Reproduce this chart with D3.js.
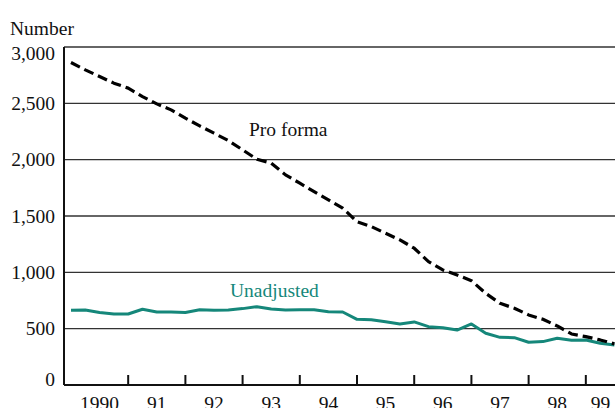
<!DOCTYPE html>
<html>
<head>
<meta charset="utf-8">
<script src="https://cdn.jsdelivr.net/npm/d3@7"></script>
<style>
    html, body { margin: 0; padding: 0; background: #fff; }
    svg { display: block; }
</style>
</head>
<body>
<svg id="chart"></svg>
<script>
"use strict";

// quarterly series, 1990 Q1 through 1999 Q3
const startYear = 1990;
const proForma = [2862, 2797, 2738, 2679, 2635, 2560, 2495, 2442, 2368, 2300,
    2235, 2170, 2087, 2004, 1969, 1865, 1791, 1716, 1643, 1569,
    1450, 1406, 1347, 1288, 1214, 1095, 1021, 977, 926, 814,
    725, 681, 622, 583, 524, 453, 429, 400, 365];
const unadjusted = [663, 665, 644, 630, 630, 672, 648, 648, 644, 668,
    663, 666, 678, 695, 675, 666, 668, 668, 651, 648,
    583, 580, 562, 542, 560, 518, 509, 488, 542, 459,
    423, 420, 379, 385, 415, 397, 400, 370, 355];
const yTicks = [0, 500, 1000, 1500, 2000, 2500, 3000];
const yearLabels = ["1990", "91", "92", "93", "94", "95", "96", "97", "98", "99"];

const width = 615;
const height = 408;
const marginLeft = 64;
const marginTop = 47;
const marginBottom = 23;
const serif = "'Liberation Serif', 'Times New Roman', 'DejaVu Serif', serif";

const svg = d3.select("#chart")
    .attr("width", width)
    .attr("height", height)
    .attr("viewBox", [0, 0, width, height])
    .attr("font-family", serif);

const x = d3.scaleLinear()
    .domain([1989.878, 1999.51])
    .range([marginLeft, width]);

const y = d3.scaleLinear()
    .domain([0, 3000])
    .range([height - marginBottom, marginTop]);

const toPoints = arr => arr.map((v, i) => ({t: startYear + i / 4, v: v}));

// gridlines
svg.append("g")
    .selectAll("line")
    .data(yTicks.filter(d => d > 0))
    .join("line")
    .attr("x1", marginLeft)
    .attr("x2", width)
    .attr("y1", d => y(d))
    .attr("y2", d => y(d))
    .attr("stroke", "#333")
    .attr("stroke-width", 1.4);

// y labels (end labels kept inside the frame)
svg.append("g")
    .selectAll("text")
    .data(yTicks)
    .join("text")
    .attr("x", 55)
    .attr("y", d => Math.min(Math.max(y(d), marginTop + 6.5), height - marginBottom - 6) + 6.7)
    .attr("text-anchor", "end")
    .attr("font-family", serif)
    .style("font-size", "19.5px")
    .attr("fill", "#111")
    .text(d => d3.format(",")(d));

svg.append("text")
    .attr("x", 10)
    .attr("y", 35)
    .attr("font-family", serif)
    .style("font-size", "19.5px")
    .attr("fill", "#111")
    .text("Number");

// axes
svg.append("line")
    .attr("x1", marginLeft).attr("x2", marginLeft)
    .attr("y1", marginTop).attr("y2", y(0))
    .attr("stroke", "#111").attr("stroke-width", 2);

svg.append("line")
    .attr("x1", marginLeft).attr("x2", width)
    .attr("y1", y(0)).attr("y2", y(0))
    .attr("stroke", "#111").attr("stroke-width", 2);

// year ticks at year boundaries
const years = yearLabels.map((d, i) => startYear + i);
svg.append("g")
    .selectAll("line")
    .data(years.slice(1))
    .join("line")
    .attr("x1", d => x(d))
    .attr("x2", d => x(d))
    .attr("y1", y(0))
    .attr("y2", y(0) - 10)
    .attr("stroke", "#111")
    .attr("stroke-width", 2);

// year labels centred in each year span (cut at the bottom as in the source)
svg.append("g")
    .selectAll("text")
    .data(years)
    .join("text")
    .attr("x", (d, i) => (x(d) + Math.min(x(d + 1), width)) / 2)
    .attr("y", 410)
    .attr("text-anchor", "middle")
    .attr("font-family", serif)
    .style("font-size", "19.5px")
    .attr("fill", "#111")
    .text((d, i) => yearLabels[i]);

const line = d3.line()
    .x(d => x(d.t))
    .y(d => y(d.v));

// unadjusted line
svg.append("path")
    .attr("fill", "none")
    .attr("stroke", "#15877a")
    .attr("stroke-width", 3)
    .attr("stroke-linejoin", "round")
    .attr("d", line(toPoints(unadjusted)));

// pro forma line
svg.append("path")
    .attr("fill", "none")
    .attr("stroke", "#000")
    .attr("stroke-width", 3.2)
    .attr("stroke-dasharray", "10,5")
    .attr("stroke-linejoin", "round")
    .attr("d", line(toPoints(proForma)));

// labels
svg.append("text")
    .attr("x", 249)
    .attr("y", 136)
    .attr("font-family", serif)
    .style("font-size", "19.5px")
    .attr("fill", "#111")
    .text("Pro forma");

svg.append("text")
    .attr("x", 230)
    .attr("y", 297)
    .attr("font-family", serif)
    .style("font-size", "19.5px")
    .attr("fill", "#15877a")
    .text("Unadjusted");
</script>
</body>
</html>
